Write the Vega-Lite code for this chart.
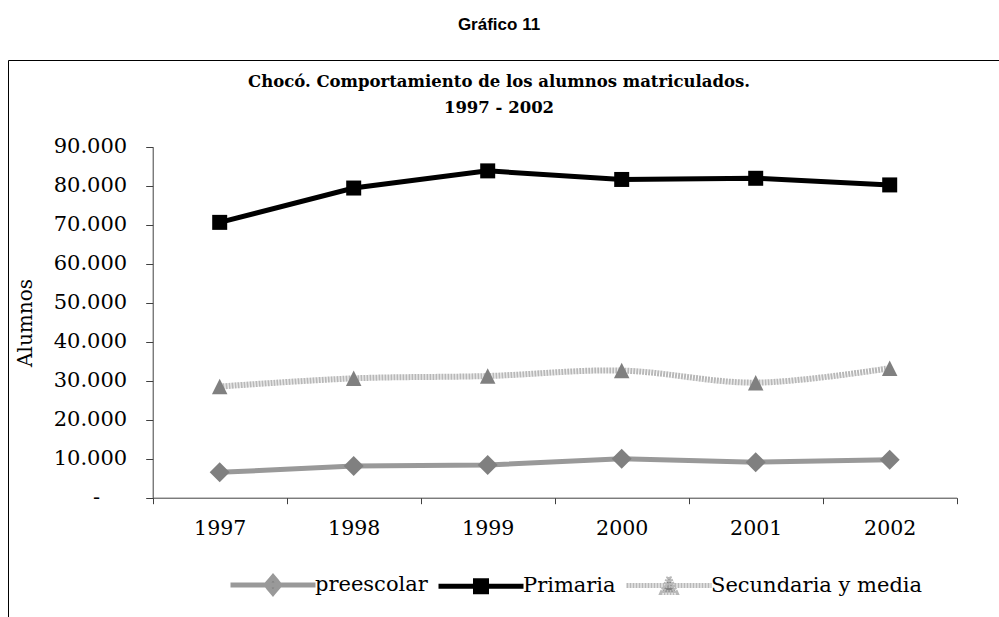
{
  "$schema": "https://vega.github.io/schema/vega-lite/v6.json",
  "width": 1000,
  "height": 570,
  "autosize": {"type": "none"},
  "padding": {"left": 8, "top": 60, "right": -9, "bottom": -13},
  "background": "white",
  "title": {
    "text": "Gráfico 11",
    "subtitle": ["Chocó. Comportamiento de los alumnos matriculados.", "1997 - 2002"],
    "anchor": "middle",
    "frame": "group",
    "dx": -9,
    "offset": -57,
    "font": "Liberation Sans",
    "fontSize": 17,
    "fontWeight": "bold",
    "color": "#000000",
    "subtitleFont": "DejaVu Serif",
    "subtitleFontSize": 16.5,
    "subtitleFontWeight": "bold",
    "subtitleColor": "#000000",
    "subtitleLineHeight": 26,
    "subtitlePadding": 40
  },
  "config": {"view": {"stroke": "#000000", "strokeWidth": 1}},
  "data": {
    "values": [
      {"year": "1997", "serie": "preescolar", "value": 6500},
      {"year": "1998", "serie": "preescolar", "value": 8100},
      {"year": "1999", "serie": "preescolar", "value": 8400},
      {"year": "2000", "serie": "preescolar", "value": 10000},
      {"year": "2001", "serie": "preescolar", "value": 9100},
      {"year": "2002", "serie": "preescolar", "value": 9700},
      {"year": "1997", "serie": "Primaria", "value": 70600},
      {"year": "1998", "serie": "Primaria", "value": 79400},
      {"year": "1999", "serie": "Primaria", "value": 83800},
      {"year": "2000", "serie": "Primaria", "value": 81600},
      {"year": "2001", "serie": "Primaria", "value": 81900},
      {"year": "2002", "serie": "Primaria", "value": 80200},
      {"year": "1997", "serie": "Secundaria y media", "value": 28500},
      {"year": "1998", "serie": "Secundaria y media", "value": 30600},
      {"year": "1999", "serie": "Secundaria y media", "value": 31200},
      {"year": "2000", "serie": "Secundaria y media", "value": 32600},
      {"year": "2001", "serie": "Secundaria y media", "value": 29500},
      {"year": "2002", "serie": "Secundaria y media", "value": 33200}
    ]
  },
  "encoding": {
    "x": {
      "field": "year",
      "type": "ordinal",
      "bandPosition": 0.5,
      "scale": {"type": "band", "range": [144.7, 948.7], "paddingInner": 0, "paddingOuter": 0},
      "axis": {
        "orient": "bottom",
        "offset": -132.3,
        "tickBand": "extent",
        "domainColor": "#404040",
        "tickColor": "#404040",
        "tickSize": 6,
        "labelPadding": 15,
        "labelFont": "DejaVu Serif",
        "labelFontSize": 20.5,
        "labelColor": "#000000",
        "labelAngle": 0,
        "title": null,
        "grid": false
      }
    },
    "y": {
      "field": "value",
      "type": "quantitative",
      "scale": {"domain": [0, 90000], "range": [437.7, 86.7], "nice": false},
      "axis": {
        "orient": "left",
        "offset": -144.7,
        "values": [0, 10000, 20000, 30000, 40000, 50000, 60000, 70000, 80000, 90000],
        "grid": false,
        "domainColor": "#404040",
        "tickColor": "#404040",
        "tickSize": 7,
        "labelPadding": {"condition": {"test": "datum.value === 0", "value": 46}, "value": 19},
        "labelFont": "DejaVu Serif",
        "labelFontSize": 21,
        "labelColor": "#000000",
        "labelExpr": "datum.value === 0 ? '-' : replace(format(datum.value, ',.0f'), ',', '.')",
        "title": "Alumnos",
        "titleFont": "DejaVu Serif",
        "titleFontSize": 20,
        "titleFontWeight": "normal",
        "titleColor": "#000000",
        "titleX": -127,
        "titleY": 262.5,
        "titleAngle": -90,
        "titleBaseline": "middle",
        "titleAlign": "center"
      }
    }
  },
  "layer": [
    {
      "transform": [{"filter": "datum.serie === 'Secundaria y media'"}],
      "mark": {"type": "line", "strokeWidth": 6, "interpolate": "catmull-rom", "strokeDash": [2, 1]},
      "encoding": {
        "color": {
          "field": "serie",
          "type": "nominal",
          "scale": {"domain": ["preescolar", "Primaria", "Secundaria y media"], "range": ["#999999", "#000000", "#b8b8b8"]},
          "legend": {
            "orient": "none",
            "legendX": 220,
            "legendY": 479.5,
            "direction": "horizontal",
            "title": null,
            "padding": 0,
            "symbolSize": 7225,
            "labelFont": "DejaVu Serif",
            "labelFontSize": 21,
            "labelColor": "#000000",
            "labelOffset": -3,
            "labelLimit": 0,
            "columnPadding": 0,
            "encode": {
              "symbols": {
                "update": {
                  "shape": {"signal": "datum.value === 'preescolar' ? 'M-1,0H1M0,-0.19L0.16,0L0,0.19L-0.16,0Z' : datum.value === 'Primaria' ? 'M-1,0H1M-0.13,-0.13H0.13V0.13H-0.13Z' : 'M-1,0H1M0,-0.2L0.16,0.16H-0.16Z'"},
                  "fill": {"signal": "datum.value === 'Primaria' ? '#000000' : '#808080'"},
                  "stroke": {"signal": "datum.value === 'preescolar' ? '#999999' : datum.value === 'Primaria' ? '#000000' : '#b8b8b8'"},
                  "strokeDash": {"signal": "datum.value === 'Secundaria y media' ? [2, 1] : [1, 0]"},
                  "strokeWidth": {"value": 5},
                  "opacity": {"value": 1},
                  "fillOpacity": {"value": 1},
                  "strokeOpacity": {"value": 1}
                }
              }
            }
          }
        }
      }
    },
    {
      "transform": [{"filter": "datum.serie !== 'Secundaria y media'"}],
      "mark": {"type": "line", "strokeWidth": 5},
      "encoding": {
        "color": {"field": "serie", "type": "nominal"}
      }
    },
    {
      "transform": [{"filter": "datum.serie === 'preescolar'"}],
      "mark": {"type": "point", "filled": true, "opacity": 1, "shape": "diamond", "fill": "#808080", "size": 400},
      "encoding": {}
    },
    {
      "transform": [{"filter": "datum.serie === 'Primaria'"}],
      "mark": {"type": "point", "filled": true, "opacity": 1, "shape": "square", "fill": "#000000", "size": 225},
      "encoding": {}
    },
    {
      "transform": [{"filter": "datum.serie === 'Secundaria y media'"}],
      "mark": {"type": "point", "filled": true, "opacity": 1, "shape": "M0,-1L1,1H-1Z", "fill": "#808080", "size": 240},
      "encoding": {}
    }
  ]
}
